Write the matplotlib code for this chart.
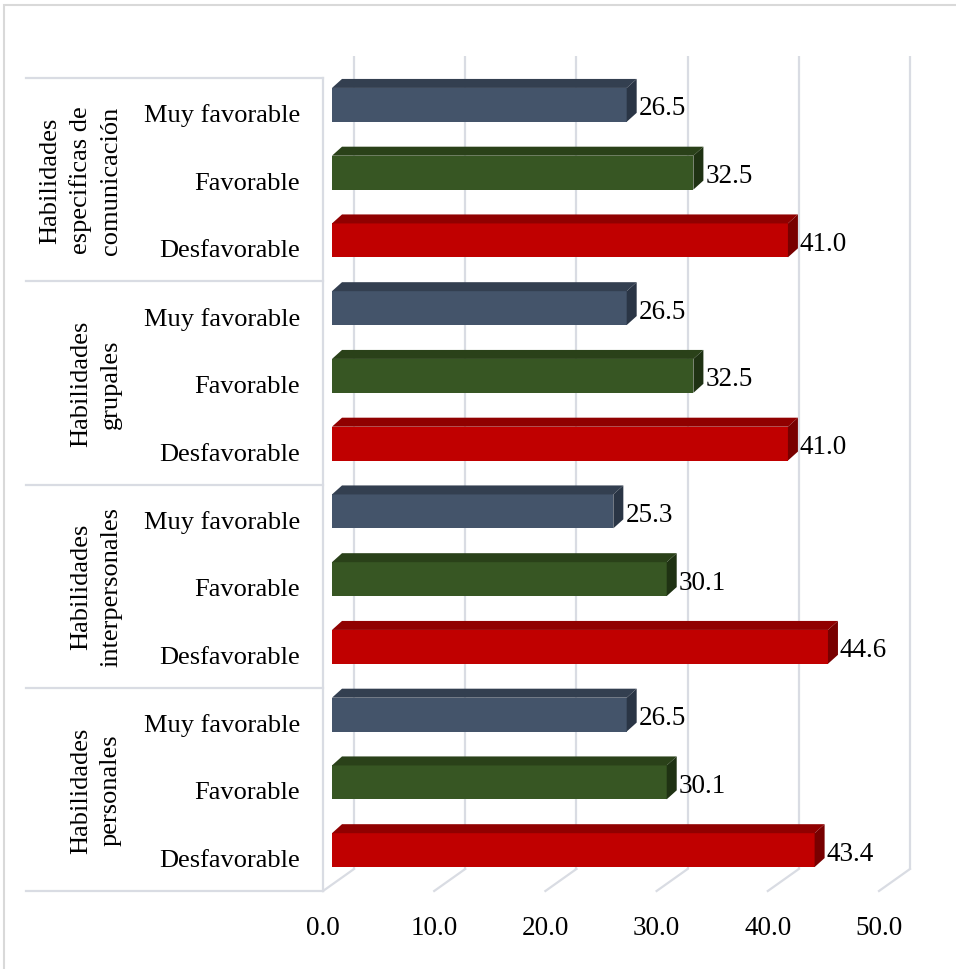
import matplotlib
matplotlib.use("Agg")
import matplotlib.pyplot as plt
from matplotlib.patches import Polygon, Rectangle
from matplotlib.transforms import offset_copy

# ---------------- data ----------------
groups = ["Habilidades\nespecificas de\ncomunicación",
          "Habilidades\ngrupales",
          "Habilidades\ninterpersonales",
          "Habilidades\npersonales"]
levels = ["Muy favorable", "Favorable", "Desfavorable"]
esp_comunicacion = [26.5, 32.5, 41.0]
grupales = [26.5, 32.5, 41.0]
interpersonales = [25.3, 30.1, 44.6]
personales = [26.5, 30.1, 43.4]
group_values = [esp_comunicacion, grupales, interpersonales, personales]
ticks = [0, 10, 20, 30, 40, 50]
tick_labels = ["0.0", "10.0", "20.0", "30.0", "40.0", "50.0"]

front_colors = ["#44546A", "#375623", "#C00000"]
top_colors = ["#333F50", "#2A4119", "#900000"]
side_colors = ["#2A3545", "#1F3213", "#780000"]

# ---------------- layout ----------------
W, H, DPI = 956, 970, 100
fig = plt.figure(figsize=(W / DPI, H / DPI), dpi=DPI)
plt.rcParams['font.family'] = ['Liberation Serif', 'DejaVu Serif']
FS = 19
FSV = 19.5

ax_l, ax_r, ax_top, ax_bot = 323, 879, 79, 892
ax = fig.add_axes([ax_l / W, (H - ax_bot) / H, (ax_r - ax_l) / W, (ax_bot - ax_top) / H])
nrows = len(groups) * len(levels)
ax.set_xlim(0, 50)
ax.set_ylim(0, nrows)
for s in ax.spines.values():
    s.set_visible(False)
ax.set_yticks([])
ax.set_xticks(ticks)
ax.set_xticklabels(tick_labels, fontsize=FSV)
ax.tick_params(axis='x', length=0, pad=17)
ax.patch.set_alpha(0)

ux = (ax_r - ax_l) / 50.0        # px per value unit
uy = (ax_bot - ax_top) / nrows   # px per row

# depth planes (pixel offsets)
front = offset_copy(ax.transData, fig=fig, x=9, y=7, units='dots')
front_txt = offset_copy(ax.transData, fig=fig, x=9, y=4, units='dots')
cat_txt = offset_copy(ax.transData, fig=fig, x=0, y=-3, units='dots')
back_wall = offset_copy(ax.transData, fig=fig, x=31, y=22, units='dots')
bdx, bdy = 10 / ux, 9 / uy  # bar depth in data units

grid_c = "#D9DCE3"
# back wall gridlines
ax.vlines(ticks, 0, nrows, colors=grid_c, lw=1.6, transform=back_wall, zorder=0, clip_on=False)
# floor diagonals
for t in ticks:
    ax.plot([t, t + 31 / ux], [0, 22 / uy], color=grid_c, lw=1.6, clip_on=False, zorder=0)
# left side frame
ax.plot([0, 0], [0, nrows], color=grid_c, lw=1.6, clip_on=False, zorder=0)
x_left = -(ax_l - 26) / ux
for b in range(0, nrows + 1, 3):
    ax.plot([x_left, 0], [b, b], color=grid_c, lw=1.6, clip_on=False, zorder=0)

# bars
bh = 0.5
for g, vals in enumerate(group_values):
    for k, v in enumerate(vals):
        yc = nrows - (g * 3 + k) - 0.5
        ax.barh(yc, v, height=bh, color=front_colors[k], transform=front, zorder=3,
                edgecolor='none')
        y0, y1 = yc - bh / 2, yc + bh / 2
        top = Polygon([(0, y1), (v, y1), (v + bdx, y1 + bdy), (bdx, y1 + bdy)],
                      closed=True, facecolor=top_colors[k], edgecolor='none',
                      transform=front, zorder=3)
        side = Polygon([(v, y0), (v, y1), (v + bdx, y1 + bdy), (v + bdx, y0 + bdy)],
                       closed=True, facecolor=side_colors[k], edgecolor='none',
                       transform=front, zorder=3)
        ax.add_patch(top)
        ax.add_patch(side)
        ax.text(v + bdx + 2 / ux, yc, f"{v:.1f}", transform=front_txt, fontsize=FSV,
                ha='left', va='center', zorder=4, clip_on=False)
        # category label
        ax.text(-23 / ux, yc, levels[k], transform=cat_txt, fontsize=FS, ha='right',
                va='center', clip_on=False)
    # group label
    gc = nrows - g * 3 - 1.5
    ax.text((122 - ax_l) / ux, gc, groups[g], fontsize=FS, rotation=90, ha='right',
            va='center', multialignment='center', linespacing=1.45, clip_on=False)

# outer chart border
fig.add_artist(Rectangle((4 / W, -0.01), 1.1, (H - 6) / H + 0.01, transform=fig.transFigure,
                         fill=False, edgecolor="#D9D9D9", lw=1.5))

fig.savefig("out.png", dpi=DPI)
